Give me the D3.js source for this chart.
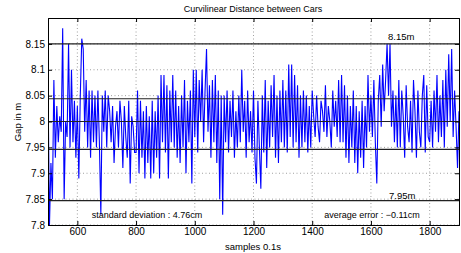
<!DOCTYPE html>
<html>
<head>
<meta charset="utf-8">
<script src="https://cdn.jsdelivr.net/npm/d3@7"></script>
<style>
  body { margin: 0; background: #fff; }
  svg text { font-family: "Liberation Sans", Arial, sans-serif; fill: #000; }
</style>
</head>
<body>
<div id="chart"></div>
<script>
// samples 500..1900, every 5th sample
const sampleStart = 500;
const sampleStep = 5;
const gap = [
  8.075, 7.80, 7.92, 7.85, 8.08, 7.93, 8.03, 7.96, 8.01, 7.98, 8.18, 7.85, 8.00, 7.97, 8.15, 7.95, 8.10, 7.96, 8.04, 7.93,
  8.03, 7.89, 8.05, 8.16, 8.14, 7.98, 8.08, 7.95, 8.06, 7.93, 8.06, 7.96, 8.05, 7.95, 8.06, 7.96, 7.82, 8.05, 7.98, 8.06,
  7.95, 8.05, 8.02, 7.96, 8.03, 7.92, 7.99, 8.02, 7.95, 8.04, 8.00, 7.91, 8.03, 7.97, 7.93, 8.04, 7.88, 8.01, 7.99, 7.94,
  7.94, 8.06, 7.90, 8.04, 7.93, 8.02, 7.89, 8.03, 7.92, 8.01, 7.89, 8.04, 7.90, 8.02, 7.93, 8.05, 7.89, 8.09, 7.96, 8.09,
  7.94, 8.07, 7.89, 8.06, 7.96, 8.09, 7.95, 8.06, 7.93, 8.03, 7.92, 8.05, 7.95, 8.08, 7.90, 8.04, 7.96, 8.06, 7.88, 8.10,
  7.97, 8.10, 7.94, 8.08, 8.00, 8.10, 7.96, 8.06, 8.14, 7.98, 8.07, 7.93, 8.08, 7.96, 8.09, 7.92, 8.06, 7.85, 8.05, 7.82,
  8.05, 7.96, 8.06, 7.94, 8.04, 7.97, 8.06, 7.93, 8.02, 7.95, 8.05, 7.96, 8.10, 7.98, 8.04, 7.93, 8.06, 7.96, 8.02, 7.94,
  8.06, 7.93, 7.88, 8.04, 7.95, 7.87, 8.05, 7.94, 8.08, 7.91, 8.04, 7.95, 8.07, 7.97, 8.09, 7.93, 8.05, 7.92, 8.06, 7.96,
  8.08, 7.95, 8.06, 7.94, 8.11, 7.97, 8.11, 7.95, 8.09, 7.96, 8.07, 7.93, 8.05, 7.95, 8.06, 7.96, 8.05, 7.94, 8.03, 7.95,
  8.06, 8.01, 7.97, 8.05, 7.99, 7.96, 8.04, 8.02, 7.98, 8.07, 7.97, 8.03, 8.00, 7.95, 8.06, 7.99, 8.04, 7.97, 8.08, 7.96,
  8.09, 7.96, 8.07, 7.93, 8.05, 7.92, 8.03, 7.95, 8.06, 7.92, 8.03, 7.90, 8.02, 7.93, 8.04, 7.91, 8.03, 7.95, 8.09, 7.98,
  8.05, 7.97, 8.08, 7.96, 7.88, 8.04, 8.09, 7.99, 8.11, 8.02, 8.08, 8.15, 8.05, 8.15, 7.99, 8.06, 7.96, 8.05, 7.95, 8.08,
  7.95, 8.06, 8.01, 7.93, 8.07, 7.99, 7.96, 8.04, 7.94, 8.08, 8.02, 7.93, 8.06, 7.98, 7.95, 8.05, 8.09, 7.94, 8.07, 7.97,
  7.96, 8.04, 7.95, 8.06, 7.98, 8.09, 7.96, 8.05, 7.97, 8.08, 7.95, 8.10, 7.99, 8.13, 8.00, 8.14, 7.97, 8.06, 7.99, 7.91, 8.02
];
const xTicks = [600, 800, 1000, 1200, 1400, 1600, 1800];
const yTicks = [7.8, 7.85, 7.9, 7.95, 8, 8.05, 8.1, 8.15];
const refLines = [8.15, 8.044, 8.0, 7.946, 7.847];

const width = 461, height = 253;
const margin = {top: 18, right: 2, bottom: 28, left: 48};

const svg = d3.select("#chart").append("svg")
  .attr("width", width).attr("height", height);

const x = d3.scaleLinear().domain([500, 1900]).range([margin.left, width - margin.right]);
const y = d3.scaleLinear().domain([7.8, 8.2]).range([height - margin.bottom, margin.top]);

const data = gap.map((v, i) => ({s: sampleStart + i * sampleStep, v}));

// grid
svg.append("g").selectAll("line").data(xTicks).enter().append("line")
  .attr("x1", d => x(d)).attr("x2", d => x(d))
  .attr("y1", y.range()[0]).attr("y2", y.range()[1])
  .attr("stroke", "#888").attr("stroke-width", 0.8).attr("stroke-dasharray", "1,2.5");
svg.append("g").selectAll("line").data(yTicks).enter().append("line")
  .attr("x1", x.range()[0]).attr("x2", x.range()[1])
  .attr("y1", d => y(d)).attr("y2", d => y(d))
  .attr("stroke", "#888").attr("stroke-width", 0.8).attr("stroke-dasharray", "1,2.5");

svg.append("clipPath").attr("id", "clip").append("rect")
  .attr("x", x.range()[0]).attr("y", y.range()[1])
  .attr("width", x.range()[1] - x.range()[0]).attr("height", y.range()[0] - y.range()[1]);

// data line
const line = d3.line().x(d => x(d.s)).y(d => y(d.v));
svg.append("path").datum(data)
  .attr("clip-path", "url(#clip)")
  .attr("fill", "none").attr("stroke", "#0000ff").attr("stroke-width", 1.1)
  .attr("d", line);

// reference lines
svg.append("g").selectAll("line").data(refLines).enter().append("line")
  .attr("x1", x.range()[0]).attr("x2", x.range()[1])
  .attr("y1", d => y(d)).attr("y2", d => y(d))
  .attr("stroke", "#222").attr("stroke-width", 1.2);

// axes, MATLAB style ticks inside
const xAxis = svg.append("g").attr("transform", `translate(0,${y.range()[0]})`)
  .call(d3.axisBottom(x).tickValues(xTicks).tickSize(-4).tickPadding(3).tickFormat(d3.format("d")));
const xTop = svg.append("g").attr("transform", `translate(0,${y.range()[1]})`)
  .call(d3.axisTop(x).tickValues(xTicks).tickSize(-4).tickFormat(""));
const yAxis = svg.append("g").attr("transform", `translate(${x.range()[0]},0)`)
  .call(d3.axisLeft(y).tickValues(yTicks).tickSize(-4).tickPadding(3).tickFormat(d => d3.format("")(+d.toFixed(2))));
const yRight = svg.append("g").attr("transform", `translate(${x.range()[1]},0)`)
  .call(d3.axisRight(y).tickValues(yTicks).tickSize(-4).tickFormat(""));

[xAxis, xTop, yAxis, yRight].forEach(g => {
  g.select(".domain").attr("stroke", "#000").attr("stroke-width", 1);
  g.selectAll(".tick line").attr("stroke", "#000");
  g.selectAll("text").attr("font-size", 10).attr("font-family", "Liberation Sans, Arial, sans-serif");
});

// texts
svg.append("text").attr("x", 253).attr("y", 12).attr("text-anchor", "middle")
  .attr("font-size", 9).text("Curvilinear Distance between Cars");
svg.append("text").attr("x", 253).attr("y", 250).attr("text-anchor", "middle")
  .attr("font-size", 9.5).text("samples 0.1s");
svg.append("text").attr("transform", "translate(21,122) rotate(-90)").attr("text-anchor", "middle")
  .attr("font-size", 9.5).text("Gap in m");

svg.append("text").attr("x", 388).attr("y", 40).attr("font-size", 9.5).text("8.15m");
svg.append("text").attr("x", 389).attr("y", 199).attr("font-size", 9.5).text("7.95m");
svg.append("text").attr("x", 147).attr("y", 218).attr("text-anchor", "middle")
  .attr("font-size", 9).text("standard deviation : 4.76cm");
svg.append("text").attr("x", 372).attr("y", 218).attr("text-anchor", "middle")
  .attr("font-size", 9).text("average error : \u22120.11cm");
</script>
</body>
</html>
